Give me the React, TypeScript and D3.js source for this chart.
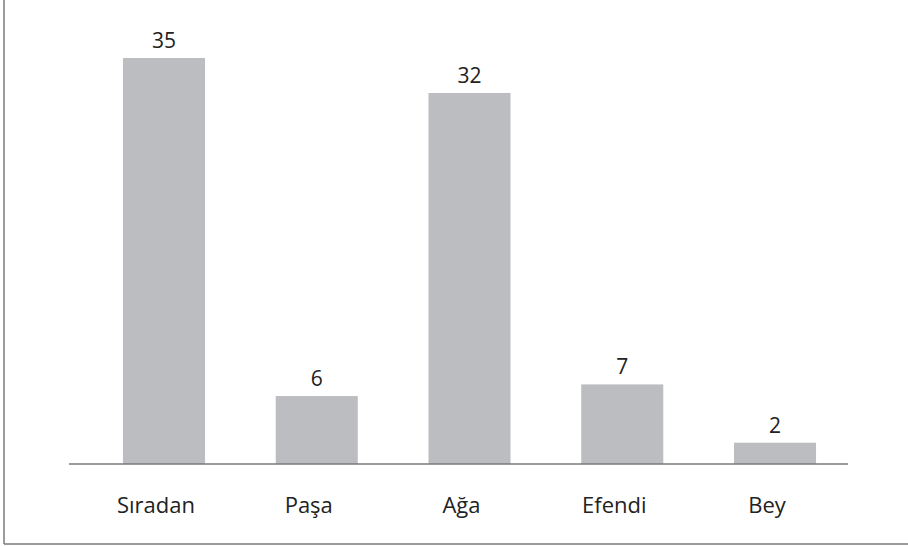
import React from "react";
import * as d3 from "d3";

const categories = ["Sıradan", "Paşa", "Ağa", "Efendi", "Bey"];
const values = [35, 6, 32, 7, 2];

const W = 908;
const H = 546;

export default function App() {
  const x = d3
    .scaleBand<string>()
    .domain(categories)
    .range([87.6, 851.4])
    .paddingInner(0.463)
    .paddingOuter(0.2315);
  const y = d3.scaleLinear().domain([0, 35]).range([466, 58]);
  const baseY = 464;
  const font = "'Open Sans', Lato, sans-serif";
  return (
    <svg
      width={W}
      height={H}
      style={{ position: "absolute", left: 0, top: 0, background: "#fff" }}
    >
      <line x1={4} y1={0} x2={4} y2={544} stroke="#7a7a7a" strokeWidth={1.5} />
      <line x1={4} y1={544} x2={W} y2={544} stroke="#7a7a7a" strokeWidth={1.5} />
      {categories.map((c, i) => (
        <g key={c}>
          <rect
            x={x(c)}
            y={y(values[i])}
            width={x.bandwidth()}
            height={baseY - y(values[i])}
            fill="#bcbdc0"
          />
          <text
            x={(x(c) as number) + x.bandwidth() / 2}
            y={y(values[i]) - 10}
            textAnchor="middle"
            fontFamily={font}
            fontSize={21}
            fill="#222"
          >
            {values[i]}
          </text>
          <text
            x={(x(c) as number) + x.bandwidth() / 2 - 8}
            y={513}
            textAnchor="middle"
            fontFamily={font}
            fontSize={22}
            fill="#222"
          >
            {c}
          </text>
        </g>
      ))}
      <line x1={69} y1={baseY} x2={848} y2={baseY} stroke="#7a7a7a" strokeWidth={1.5} />
    </svg>
  );
}
